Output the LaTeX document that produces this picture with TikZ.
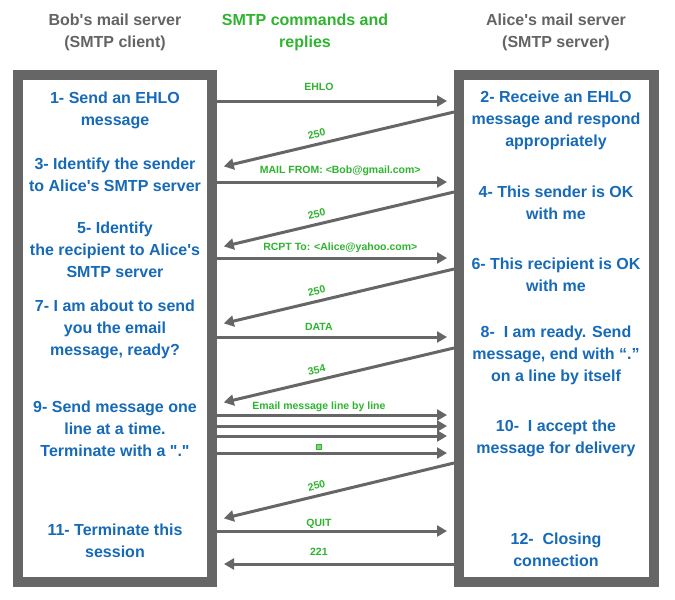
\documentclass[tikz,border=0pt]{standalone}
\usepackage{fontspec}
\setmainfont{Liberation Sans}[Ligatures=TeXOff]
\usetikzlibrary{arrows.meta}
\definecolor{boxgray}{RGB}{102,102,102}
\definecolor{hdrgray}{RGB}{100,100,100}
\definecolor{cmdgreen}{RGB}{46,180,46}
\definecolor{stepblue}{RGB}{22,106,184}
\tikzset{
  srvbox/.style={draw=boxgray, line width=10pt, fill=white, inner sep=0pt},
  steptext/.style={text=stepblue, align=center, inner sep=0pt, font=\bfseries\fontsize{16}{22}\selectfont},
  hdr/.style={align=center, inner sep=0pt, font=\bfseries\fontsize{16}{22}\selectfont},
  arr/.style={draw=boxgray, line width=3pt, -{Triangle[length=10pt,width=11pt]}, shorten >=7pt},
  lbl/.style={text=cmdgreen, inner sep=0pt, text height=7.5pt, text depth=0pt, font=\bfseries\fontsize{10.5}{12}\selectfont},
  dotmark/.style={draw=cmdgreen, fill=cmdgreen!60, line width=1pt, minimum size=5pt, inner sep=0pt}
}
\begin{document}
\begin{tikzpicture}[x=1pt,y=-1pt]
\useasboundingbox[fill=white] (0,0) rectangle (675,600);
% headers
\node[hdr, text=hdrgray] (h1) at (115,32.5) {Bob's mail server\\(SMTP client)};
\node[hdr, text=cmdgreen] (h2) at (305,32.5) {SMTP commands and\\replies};
\node[hdr, text=hdrgray] (h3) at (556,32.5) {Alice's mail server\\(SMTP server)};
% boxes
\node[srvbox, minimum width=194pt, minimum height=507pt] (lb) at (115,328.5) {};
\node[srvbox, minimum width=195pt, minimum height=507pt] (rb) at (556.5,328.5) {};
% left texts
\node[steptext] (t1) at (115,110.5) {1- Send an EHLO\\message};
\node[steptext] (t3) at (115,174.5) {3- Identify the sender\\to Alice's SMTP server};
\node[steptext] (t5) at (115,249.5) {5- Identify\\the recipient to Alice's\\SMTP server};
\node[steptext] (t7) at (115,329.5) {7- I am about to send\\you the email\\message, ready?};
\node[steptext] (t9) at (115,428.5) {9- Send message one\\line at a time.\\Terminate with a "."};
\node[steptext] (t11) at (115,540.5) {11- Terminate this\\session};
% right texts
\node[steptext] (t2) at (556,120.5) {2- Receive an EHLO\\message and respond\\appropriately};
\node[steptext] (t4) at (556,202.5) {4- This sender is OK\\with me};
\node[steptext] (t6) at (556,274.5) {6- This recipient is OK\\with me};
\node[steptext] (t8) at (556,355.5) {8-\ \ I am ready. Send\\message, end with “.”\\on a line by itself};
\node[steptext] (t10) at (556,438.5) {10-\ \ I accept the\\message for delivery};
\node[steptext] (t12) at (556,549.5) {12-\ \ Closing\\connection};
% connectors
\draw[arr] (lb.east |- 0,101) -- node[lbl, pos=0.43, above=9pt] {EHLO} (rb.west |- 0,101);
\draw[arr] (rb.west |- 0,112) -- node[lbl, pos=0.57, above=5pt, sloped] {250} (lb.east |- 0,168);
\draw[arr] (lb.east |- 0,182) -- node[lbl, pos=0.52, above=7pt] {MAIL FROM: <Bob@gmail.com>} (rb.west |- 0,182);
\draw[arr] (rb.west |- 0,192) -- node[lbl, pos=0.57, above=5pt, sloped] {250} (lb.east |- 0,248);
\draw[arr] (lb.east |- 0,258) -- node[lbl, pos=0.52, above=6pt] {RCPT To: <Alice@yahoo.com>} (rb.west |- 0,258);
\draw[arr] (rb.west |- 0,269) -- node[lbl, pos=0.57, above=5pt, sloped] {250} (lb.east |- 0,325);
\draw[arr] (lb.east |- 0,337) -- node[lbl, pos=0.43, above=5pt] {DATA} (rb.west |- 0,337);
\draw[arr] (rb.west |- 0,348) -- node[lbl, pos=0.57, above=5pt, sloped] {354} (lb.east |- 0,404);
\draw[arr] (lb.east |- 0,415) -- node[lbl, pos=0.43, above=4pt] {Email message line by line} (rb.west |- 0,415);
\draw[arr] (lb.east |- 0,426) -- (rb.west |- 0,426);
\draw[arr] (lb.east |- 0,436) -- (rb.west |- 0,436);
\draw[arr] (lb.east |- 0,453) -- node[dotmark, pos=0.43, above=3.5pt] {} (rb.west |- 0,453);
\draw[arr] (rb.west |- 0,463) -- node[lbl, pos=0.57, above=5pt, sloped] {250} (lb.east |- 0,520);
\draw[arr] (lb.east |- 0,531) -- node[lbl, pos=0.43, above=3pt] {QUIT} (rb.west |- 0,531);
\draw[arr] (rb.west |- 0,564) -- node[lbl, pos=0.57, above=7pt] {221} (lb.east |- 0,564);
\end{tikzpicture}
\end{document}
